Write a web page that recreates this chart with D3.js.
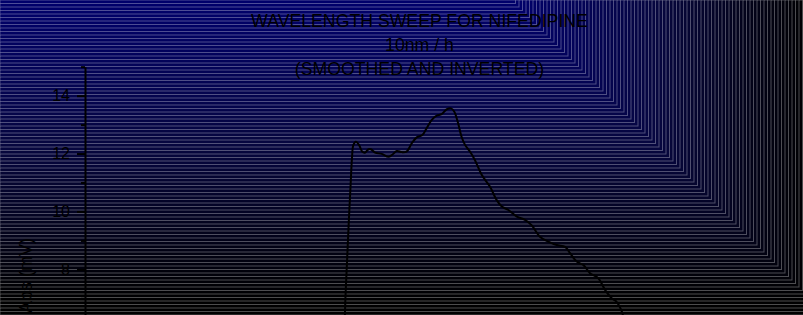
<!DOCTYPE html>
<html>
<head>
<meta charset="utf-8">
<script src="https://cdn.jsdelivr.net/npm/d3@7"></script>
<style>
html, body { margin: 0; padding: 0; background: #000; overflow: hidden; }
svg { display: block; font-family: "Liberation Sans", Arial, sans-serif; }
</style>
</head>
<body>
<svg id="chart" width="803" height="315"></svg>
<script>
// chart data
const titleLines = ["WAVELENGTH SWEEP FOR NIFEDIPINE", "10nm / h", "(SMOOTHED AND INVERTED)"];
const yLabel = "Abs (mV)";
const majorTicks = [8, 10, 12, 14];
const minorTicks = [7, 9, 11, 13, 15];

const wavelength = [273.8, 274.1, 274.6, 275.0, 275.6, 276.0, 276.4, 277.1, 278.0, 278.9,
	279.7, 280.7, 281.4, 282.6, 284.5, 286.4, 287.5, 288.8, 290.2, 291.6,
	293.1, 294.5, 296.1, 297.3, 298.8, 300.2, 301.6, 303.1, 304.3, 305.2,
	306.2, 307.3, 308.3, 309.7, 311.1, 313.1, 315.4, 317.3, 318.8, 320.7,
	323.1, 325.4, 327.3, 329.7, 332.1, 334.5, 336.9, 338.3, 340.2, 342.1,
	344.0, 346.4, 348.3, 350.2, 351.6, 353.1, 353.7];
const absorbance = [5.60, 6.94, 8.32, 9.43, 10.92, 11.85, 12.30, 12.41, 12.30, 12.07,
	12.03, 12.15, 12.15, 12.03, 11.99, 11.89, 11.96, 12.09, 12.05, 12.07,
	12.36, 12.56, 12.64, 12.87, 13.16, 13.31, 13.36, 13.53, 13.56, 13.45,
	13.10, 12.58, 12.30, 12.07, 11.78, 11.26, 10.86, 10.40, 10.17, 10.05,
	9.82, 9.71, 9.53, 9.13, 8.96, 8.84, 8.78, 8.56, 8.27, 8.15,
	7.87, 7.69, 7.29, 7.00, 6.88, 6.54, 6.25];

const svg = d3.select("#chart"),
    width = +svg.attr("width"),
    height = +svg.attr("height");

var x = d3.scaleLinear().domain([200, 400]).range([86, 786]),
    y = d3.scaleLinear().domain([0, 15]).range([501, 66.7]);

// stepped background: nested rects anchored at the top left corner
var shade = d3.scaleLinear().domain([0, 150, 300]).range(["#00006c", "#06063e", "#000000"]).clamp(true);
var steps = d3.range(0, 340, 3.5).reverse();
svg.append("g")
    .attr("class", "bg")
  .selectAll("rect")
  .data(steps)
  .enter().append("rect")
    .attr("x", 0)
    .attr("y", 0)
    .attr("width", t => 512 + t)
    .attr("height", t => t)
    .attr("fill", t => shade(t))
    .attr("stroke", "rgba(255,255,255,0.3)")
    .attr("stroke-width", 1);

// title
svg.append("g")
    .attr("class", "title")
  .selectAll("text")
  .data(titleLines)
  .enter().append("text")
    .attr("x", 419.5)
    .attr("y", (d, i) => 26.5 + i * 24)
    .attr("text-anchor", "middle")
    .attr("font-size", 17.7)
    .attr("fill", "#000")
    .text(d => d);

// y axis
var axis = svg.append("g")
    .attr("class", "axis y")
    .attr("transform", "translate(85,0)")
    .call(d3.axisLeft(y).tickValues(majorTicks).tickSize(8).tickSizeOuter(0).tickPadding(7).tickFormat(d3.format("d")));

axis.append("g")
    .call(d3.axisLeft(y).tickValues(minorTicks).tickSize(4).tickSizeOuter(0).tickFormat(""))
    .select(".domain").remove();

axis.selectAll("path, line").attr("stroke", "#000").attr("stroke-width", 2);
axis.selectAll("text").attr("fill", "#000").attr("font-size", 16)
    .attr("font-family", "\"Liberation Sans\", Arial, sans-serif");

svg.append("text")
    .attr("transform", "translate(32,238) rotate(-90)")
    .attr("text-anchor", "end")
    .attr("font-size", 18)
    .attr("fill", "#000")
    .text(yLabel);

// the sweep
var data = wavelength.map((w, i) => ({ w, v: absorbance[i] }));
svg.append("path")
    .datum(data)
    .attr("fill", "none")
    .attr("stroke", "#000")
    .attr("stroke-width", 2)
    .attr("d", d3.line()
        .x(d => x(d.w))
        .y(d => y(d.v))
        .curve(d3.curveCatmullRom.alpha(0.5)));
</script>
</body>
</html>
